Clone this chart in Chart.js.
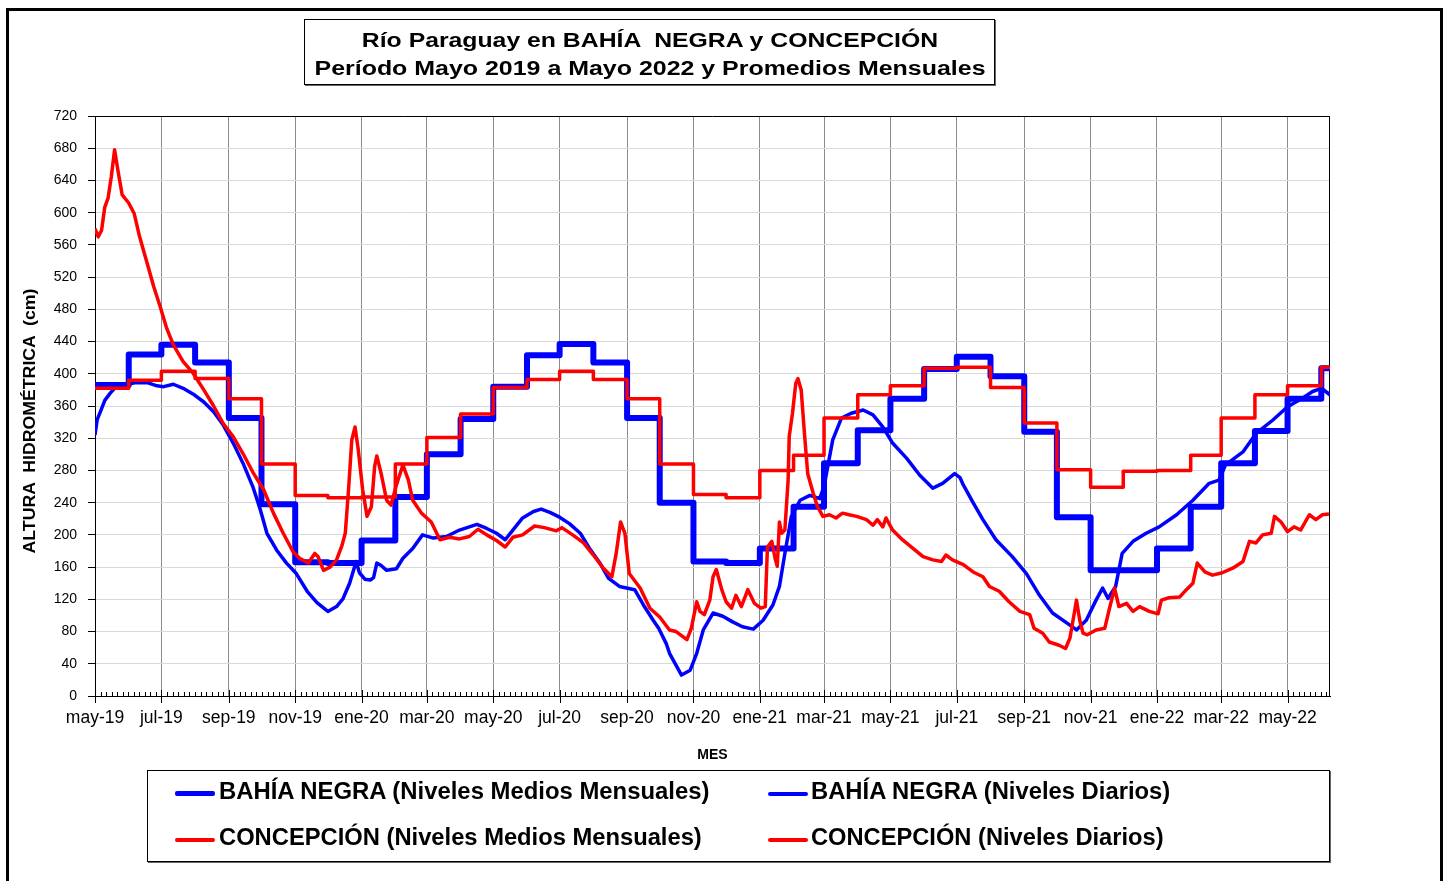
<!DOCTYPE html>
<html lang="es"><head><meta charset="utf-8">
<title>Río Paraguay en BAHÍA NEGRA y CONCEPCIÓN</title>
<script src="https://cdn.jsdelivr.net/npm/chart.js@4.4.1/dist/chart.umd.min.js"></script>
<style>
html,body{margin:0;padding:0;width:1450px;height:881px;overflow:hidden;background:#fff;}
#wrap{position:relative;width:1450px;height:881px;font-family:"Liberation Sans",Arial,Helvetica,sans-serif;color:#000;}
#chart{position:absolute;left:0;top:0;}
#frame{position:absolute;left:6px;top:8px;width:1437px;height:900px;border:3px solid #000;box-sizing:border-box;pointer-events:none;}
.box{position:absolute;border:1px solid #000;box-sizing:border-box;box-shadow:1px 1px 0 #666;}
.txt{position:absolute;white-space:pre;line-height:1;font-weight:bold;}
.swatch{position:absolute;width:40px;border-radius:2px;}
</style></head>
<body><div id="wrap">
<canvas id="chart" width="1450" height="881"></canvas>
<div id="frame"></div>
<div class="box" style="left:304px;top:19px;width:691px;height:66px;"></div>
<div class="box" style="left:147px;top:770px;width:1183px;height:92px;"></div>
<div id="overlay"></div>
</div>
<script>
// ---------------- DATA ----------------
const titleLines = ['Río Paraguay en BAHÍA  NEGRA y CONCEPCIÓN', 'Período Mayo 2019 a Mayo 2022 y Promedios Mensuales'];
const yTitle = 'ALTURA  HIDROMÉTRICA  (cm)';
const xTitle = 'MES';
const seriesLabels = ['BAHÍA NEGRA (Niveles Medios Mensuales)', 'BAHÍA NEGRA (Niveles Diarios)',
                      'CONCEPCIÓN (Niveles Medios Mensuales)', 'CONCEPCIÓN (Niveles Diarios)'];
const startDate = '2019-05-01';
const endDate = '2022-06-09';
const months = ['2019-05','2019-06','2019-07','2019-08','2019-09','2019-10','2019-11','2019-12',
  '2020-01','2020-02','2020-03','2020-04','2020-05','2020-06','2020-07','2020-08','2020-09','2020-10','2020-11','2020-12',
  '2021-01','2021-02','2021-03','2021-04','2021-05','2021-06','2021-07','2021-08','2021-09','2021-10','2021-11','2021-12',
  '2022-01','2022-02','2022-03','2022-04','2022-05','2022-06'];
const tickLabels = ['may-19','jul-19','sep-19','nov-19','ene-20','mar-20','may-20','jul-20','sep-20','nov-20',
  'ene-21','mar-21','may-21','jul-21','sep-21','nov-21','ene-22','mar-22','may-22'];
const bnMonthly = [386,424,436,414,345,238,166,165,
  193,247,300,344,384,423,437,414,345,240,167,165,
  183,235,289,330,369,406,421,397,328,222,156,156,
  183,235,289,329,369,407];
const cpMonthly = [382,392,403,394,369,288,249,246,
  247,288,321,350,383,393,403,393,369,288,250,246,
  280,299,345,374,385,407,408,383,339,281,259,279,
  280,299,345,374,385,408];
// daily levels: day number since 1 May 2019, level (cm)
const bnDailyDay = [0,2,5,9,14,18,23,29,38,48,57,63,72,81,90,100,109,118,127,136,145,152,158,167,176,185,195,204,214,222,228,234,240,243,248,253,256,259,263,268,277,283,292,301,311,323,335,351,360,369,377,384,393,403,410,418,427,436,446,455,464,472,482,496,504,513,518,525,528,539,547,553,559,568,577,586,595,605,614,623,629,634,640,648,657,666,670,674,678,686,695,706,715,724,733,746,758,770,779,790,795,798,807,816,828,843,856,868,880,896,902,911,920,926,931,938,944,954,966,978,994,1009,1024,1033,1039,1055,1067,1082,1096,1110,1119,1127,1135];
const bnDailyVal = [324,343,353,367,376,382,384,387,389,389,385,384,387,382,375,365,353,336,314,289,260,231,202,181,165,152,130,116,105,111,121,140,167,153,145,144,147,165,162,156,158,171,183,200,196,198,206,213,208,202,194,206,221,229,232,228,222,214,202,182,165,146,136,132,113,94,84,65,53,26,32,53,82,103,99,92,86,83,94,113,136,177,223,243,249,245,260,289,318,345,351,355,349,334,314,295,274,258,264,276,271,262,240,219,194,173,152,125,103,88,82,94,119,134,121,136,177,192,202,210,225,243,264,268,287,303,326,342,359,370,378,382,374];
const cpDailyDay = [0,3,6,9,12,15,18,21,25,31,36,41,48,54,60,66,72,81,90,100,109,118,127,136,145,155,164,173,182,188,196,202,205,210,216,222,227,230,233,236,239,242,246,250,254,257,259,263,268,272,277,283,288,292,300,309,317,326,335,344,352,360,369,377,384,393,404,413,424,429,439,449,458,467,475,479,483,487,491,501,510,519,528,534,544,548,553,556,560,565,568,571,576,580,585,589,594,600,606,612,616,618,622,625,627,629,631,634,637,638,641,644,646,649,652,655,660,664,669,675,681,687,693,700,709,715,719,724,727,733,742,752,761,770,778,782,788,798,807,816,822,831,840,850,859,863,871,877,886,892,896,900,902,905,908,912,920,928,932,937,941,948,954,960,969,977,980,987,997,1003,1009,1013,1020,1027,1036,1046,1055,1061,1067,1073,1081,1084,1090,1096,1102,1108,1116,1122,1128,1134];
const cpDailyVal = [580,570,578,607,618,645,678,653,622,612,599,570,537,508,483,456,436,415,401,380,360,338,322,301,278,256,227,202,179,171,165,177,173,156,160,169,187,202,256,318,334,305,256,223,235,285,298,276,243,237,262,287,268,243,227,216,194,197,195,198,207,200,193,185,197,200,211,209,205,209,200,190,175,159,148,177,216,202,152,134,109,98,82,80,70,84,117,105,101,119,148,157,132,117,109,125,111,132,115,109,111,185,192,171,161,216,202,206,268,322,351,388,394,380,326,276,252,235,223,225,221,227,225,223,219,212,219,210,221,206,194,183,173,169,167,175,169,163,154,148,136,130,117,105,101,84,78,67,63,59,72,103,119,94,78,76,82,84,107,134,111,115,105,111,105,102,119,122,123,132,140,165,154,150,153,159,167,192,190,200,202,223,216,204,210,206,225,219,225,226];

// ---------------- HELPERS ----------------
const F = '"Liberation Sans", Arial, Helvetica, sans-serif';
const t0 = Date.parse(startDate + 'T00:00:00Z');
const dayOf = s => Math.round((Date.parse(s.length === 7 ? s + '-01T00:00:00Z' : s + 'T00:00:00Z') - t0) / 864e5);
const xMax = dayOf(endDate);
const monthDays = months.map(dayOf);
const majorDays = tickLabels.map((_, i) => monthDays[2 * i]);
const majorSet = new Set(majorDays);
const labelByDay = new Map(majorDays.map((d, i) => [d, tickLabels[i]]));
// minor ticks: 11 subdivisions between majors
const allTicks = [];
for (let i = 0; i < majorDays.length; i++) {
  const a = majorDays[i];
  allTicks.push(a);
  const b = i + 1 < majorDays.length ? majorDays[i + 1] : null;
  const step = b !== null ? (b - a) / 12 : (majorDays[i] - majorDays[i - 1]) / 12;
  for (let k = 1; k < 12; k++) {
    const v = a + step * k;
    if (b === null && v > xMax) break;
    allTicks.push(v);
  }
}
const stepSeries = vals => vals.map((v, i) => ({x: monthDays[i], y: v})).concat([{x: xMax, y: vals[vals.length - 1]}]);
const lineSeries = (days, vals) => days.map((d, i) => ({x: d, y: vals[i]}));

const datasets = [
  {label: seriesLabels[0], data: stepSeries(bnMonthly), stepped: true, borderColor: '#0000ff', borderWidth: 6, order: 4},
  {label: seriesLabels[1], data: lineSeries(bnDailyDay, bnDailyVal), borderColor: '#0000ff', borderWidth: 3.5, order: 3},
  {label: seriesLabels[2], data: stepSeries(cpMonthly), stepped: true, borderColor: '#ff0000', borderWidth: 3.5, order: 2},
  {label: seriesLabels[3], data: lineSeries(cpDailyDay, cpDailyVal), borderColor: '#ff0000', borderWidth: 3.5, order: 1}
].map(d => Object.assign({pointRadius: 0, tension: 0, fill: false, borderJoinStyle: 'round', borderCapStyle: 'butt'}, d));

const axisDecor = {
  id: 'axisDecor',
  beforeDatasetsDraw(chart) {
    const {ctx, chartArea: a, scales: {x}} = chart;
    ctx.save();
    ctx.strokeStyle = '#000';
    ctx.lineWidth = 1;
    ctx.beginPath();
    ctx.moveTo(a.left, a.top + 0.5); ctx.lineTo(a.right, a.top + 0.5);
    ctx.moveTo(a.right - 0.5, a.top); ctx.lineTo(a.right - 0.5, a.bottom);
    x.ticks.forEach(t => {
      const px = Math.round(x.getPixelForValue(t.value)) + 0.5;
      if (majorSet.has(t.value)) { ctx.moveTo(px, a.bottom - 6); ctx.lineTo(px, a.bottom + 7); }
      else { ctx.moveTo(px, a.bottom - 4); ctx.lineTo(px, a.bottom + 1); }
    });
    ctx.stroke();
    ctx.restore();
  }
};

Chart.defaults.font.family = F;
const chart = new Chart(document.getElementById('chart'), {
  type: 'line',
  data: {datasets},
  plugins: [axisDecor],
  options: {
    responsive: false, animation: false, devicePixelRatio: 1,
    layout: {padding: {left: 0, right: 120, top: 116, bottom: 110}},
    plugins: {legend: {display: false}, tooltip: {enabled: false}, title: {display: false}},
    scales: {
      x: {
        type: 'linear', min: 0, max: xMax,
        afterBuildTicks: s => { s.ticks = allTicks.map(v => ({value: v})); },
        afterFit: s => { s.height = 75; },
        grid: {color: c => (c.tick && majorSet.has(c.tick.value)) ? '#8a8a8a' : 'rgba(0,0,0,0)', lineWidth: 1, drawTicks: false},
        border: {color: '#000', width: 1},
        ticks: {autoSkip: false, maxRotation: 0, minRotation: 0, padding: 12, color: '#000',
                font: {size: 17.5}, callback: v => labelByDay.has(v) ? labelByDay.get(v) : ''},
        title: {display: true, text: xTitle, color: '#000', font: {size: 14, weight: 'bold'}, padding: {top: 0, bottom: 7.6}}
      },
      y: {
        min: 0, max: 720,
        afterFit: s => { s.width = 95; },
        ticks: {stepSize: 40, padding: 11, color: '#000', font: {size: 14}},
        grid: {color: '#d9d9d9', tickColor: '#000', tickLength: 7, lineWidth: 1},
        border: {color: '#000', width: 1}
      }
    }
  }
});

// ---------------- TEXT OVERLAYS ----------------
const overlay = document.getElementById('overlay');
function addText(str, o) {
  const el = document.createElement('div');
  el.className = 'txt';
  el.textContent = str;
  el.style.fontSize = o.size + 'px';
  el.style.fontWeight = o.weight || 'bold';
  el.style.left = o.x + 'px';
  el.style.top = o.y + 'px';
  overlay.appendChild(el);
  const k = o.width ? o.width / el.offsetWidth : 1;
  if (o.anchor === 'left') {
    el.style.transformOrigin = '0 50%';
    el.style.transform = `translateY(-50%) scaleX(${k})`;
  } else {
    el.style.transform = `translate(-50%,-50%) ${o.rotate ? 'rotate(-90deg) ' : ''}scaleX(${k})`;
  }
  return el;
}
addText(titleLines[0], {x: 650, y: 40, size: 20, width: 576});
addText(titleLines[1], {x: 649.5, y: 68, size: 20, width: 671});
addText(yTitle, {x: 28.5, y: 420.5, size: 16.5, width: 265, rotate: true});

// legend built from the datasets
const legendPos = [[175, 219, 791, 490], [768, 811, 791, 359], [175, 219, 837, 483], [768, 811, 837, 353]];
chart.data.datasets.forEach((ds, i) => {
  const [sx, tx, cy, w] = legendPos[i];
  const sw = document.createElement('div');
  sw.className = 'swatch';
  sw.style.left = sx + 'px';
  const h = i === 0 ? 5 : 4;
  sw.style.height = h + 'px';
  sw.style.top = (cy + 2.5 - h / 2) + 'px';
  sw.style.background = ds.borderColor;
  overlay.appendChild(sw);
  addText(ds.label, {x: tx, y: cy, size: 23, width: w, anchor: 'left'});
});
</script>
</body></html>
